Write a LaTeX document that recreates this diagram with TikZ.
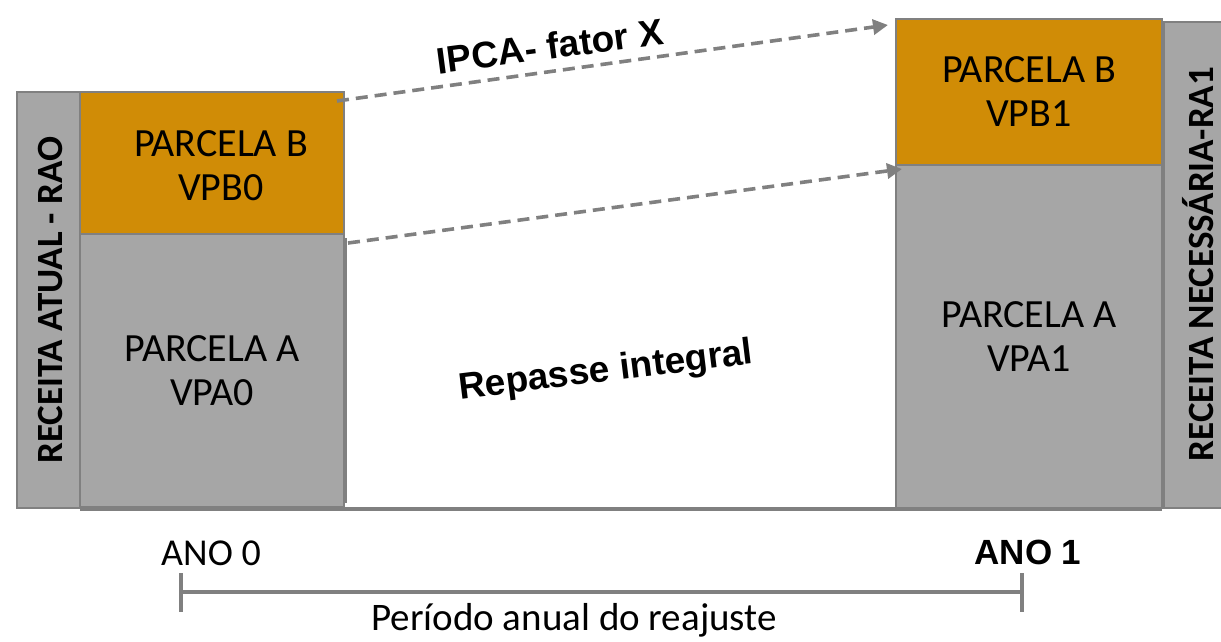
\documentclass[tikz,border=0pt]{standalone}
\usepackage{fontspec}
\setmainfont{Carlito}
\newfontfamily\arialbold{Liberation Sans}
\usetikzlibrary{arrows.meta}
\definecolor{ocre}{RGB}{208,140,6}
\definecolor{cinza}{RGB}{166,166,166}
\definecolor{borda}{RGB}{128,128,128}
\tikzset{
  bar/.style={draw=borda, line width=1.2pt, inner sep=0pt, outer sep=0pt, align=center,
    font=\fontsize{40}{44}\selectfont},
  orangebar/.style={bar, fill=ocre},
  graybar/.style={bar, fill=cinza},
  sidelabel/.style={font=\fontsize{37}{40}\selectfont\bfseries, rotate=90},
  flow/.style={draw=borda, line width=3.6pt, dash pattern=on 12pt off 7pt,
    -{Triangle[length=15pt,width=15pt]}},
  bold/.style={font=\arialbold\bfseries\fontsize{37}{40}\selectfont},
  axis/.style={draw=borda, line width=3.5pt}
}
\begin{document}
\begin{tikzpicture}[x=1pt,y=-1pt]
\useasboundingbox (0,0) rectangle (1221,641);

% left column: current revenue
\node[graybar, minimum width=63, minimum height=416] (rao) at (48.5,300) {};
\node[sidelabel] (raolbl) at (51,300) {RECEITA ATUAL - RAO};
\node[orangebar, minimum width=264, minimum height=142] (b0) at (212,163) {};
\node[font=\fontsize{40}{44}\selectfont, align=center] (b0t) at (221,166) {PARCELA B\\VPB0};
\node[graybar, minimum width=264, minimum height=273] (a0) at (212,370.5) {PARCELA A\\VPA0};

% right column: required revenue
\node[orangebar, minimum width=266, minimum height=146] (b1) at (1029,92) {PARCELA B\\VPB1};
\node[graybar, minimum width=266, minimum height=343] (a1) at (1029,336.5) {PARCELA A\\VPA1};
\node[graybar, minimum width=58, minimum height=486] (ra1) at (1193,265) {};
\node[sidelabel] (ra1lbl) at (1198,264) {RECEITA NECESSÁRIA-RA1};

% baseline under the columns and shadow edge of the left column
\coordinate (base0) at (80,509);
\coordinate (base1) at (1162,509);
\draw[axis, line width=4pt] (base0) -- (base1);
\coordinate (sh0) at (346,238);
\coordinate (sh1) at (346,503);
\draw[borda, line width=1.5pt] (sh0) -- (sh1);

% adjustment arrows
\coordinate (s1) at (337,101);
\coordinate (e1) at (888,25);
\coordinate (s2) at (348,243);
\coordinate (e2) at (902,169);
\draw[flow] (s1) -- (e1);
\draw[flow] (s2) -- (e2);
\node[bold, rotate=7.5] (ipca) at (550,46) {IPCA- fator X};
\node[bold, rotate=7] (rep) at (606,372) {Repasse integral};

% annual period axis
\node[font=\fontsize{38}{42}\selectfont] (ano0) at (211,553) {ANO 0};
\node[font=\arialbold\bfseries\fontsize{35}{38}\selectfont] (ano1) at (1028,552) {ANO 1};
\coordinate (t0a) at (181,573);
\coordinate (t0b) at (181,612);
\coordinate (t1a) at (1022,573);
\coordinate (t1b) at (1022,612);
\coordinate (m0) at (181,592);
\coordinate (m1) at (1022,592);
\draw[axis] (t0a) -- (t0b);
\draw[axis] (t1a) -- (t1b);
\draw[axis] (m0) -- (m1);
\node[font=\fontsize{39}{42}\selectfont] (per) at (574,620) {Período anual do reajuste};
\end{tikzpicture}
\end{document}
